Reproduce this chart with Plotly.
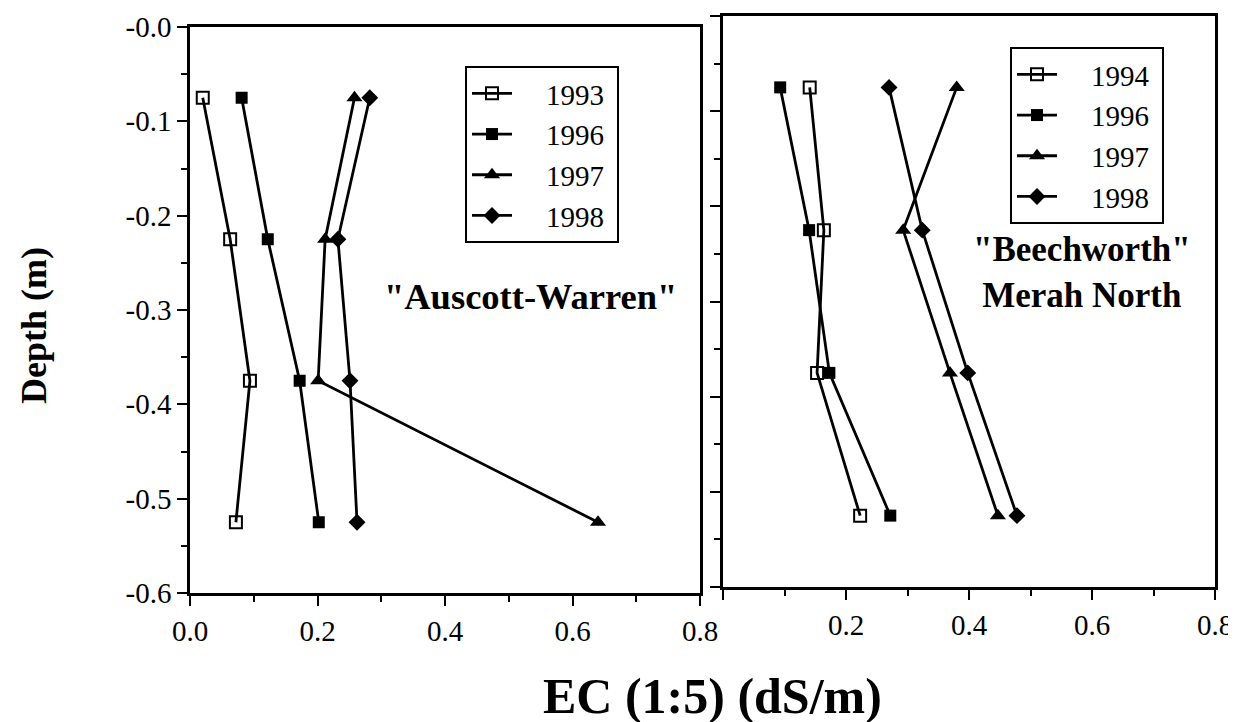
import plotly.graph_objects as go

# The page body has an 8px default margin, so the figure is drawn 8px in.
OFF = 8
W, H = 1236 - OFF, 722 - OFF

# ---- data ----
depth = [-0.075, -0.225, -0.375, -0.525]

aw_years = ["1993", "1996", "1997", "1998"]
aw_1993 = [0.020, 0.063, 0.094, 0.072]
aw_1996 = [0.081, 0.122, 0.172, 0.202]
aw_1997 = [0.258, 0.212, 0.201, 0.640]
aw_1998 = [0.282, 0.232, 0.251, 0.262]

bw_years = ["1994", "1996", "1997", "1998"]
bw_1994 = [0.141, 0.164, 0.153, 0.223]
bw_1996 = [0.093, 0.140, 0.173, 0.272]
bw_1997 = [0.380, 0.293, 0.369, 0.447]
bw_1998 = [0.270, 0.324, 0.398, 0.478]

x_tickvals = [0.0, 0.2, 0.4, 0.6, 0.8]
x_ticktext_left = ["0.0", "0.2", "0.4", "0.6", "0.8"]
x_ticktext_right = ["", "0.2", "0.4", "0.6", "0.8"]
y_tickvals = [0.0, -0.1, -0.2, -0.3, -0.4, -0.5, -0.6]
y_ticktext = ["-0.0", "-0.1", "-0.2", "-0.3", "-0.4", "-0.5", "-0.6"]

SERIF = "Liberation Serif"
NB = "\u00a0"


def px(xp):
    """page x pixel -> paper fraction"""
    return (xp - OFF) / W


def py(yp):
    """page y pixel -> paper fraction"""
    return 1 - (yp - OFF) / H


def legend_name(year):
    return NB * 4 + year + NB


symbols = [
    dict(symbol="square-open", size=12, line=dict(width=2, color="black")),
    dict(symbol="square", size=12),
    dict(symbol="triangle-up", size=14),
    dict(symbol="diamond", size=13),
]

fig = go.Figure()

for name, vals, mk in zip(aw_years, [aw_1993, aw_1996, aw_1997, aw_1998], symbols):
    fig.add_trace(go.Scatter(
        x=vals, y=depth, mode="lines+markers", name=legend_name(name),
        line=dict(color="black", width=2.8),
        marker=dict(color="black", **mk),
        xaxis="x", yaxis="y", legend="legend",
    ))

for name, vals, mk in zip(bw_years, [bw_1994, bw_1996, bw_1997, bw_1998], symbols):
    fig.add_trace(go.Scatter(
        x=vals, y=depth, mode="lines+markers", name=legend_name(name),
        line=dict(color="black", width=2.8),
        marker=dict(color="black", **mk),
        xaxis="x2", yaxis="y2", legend="legend2",
    ))

axis_common = dict(
    showgrid=False, zeroline=False, showline=True, linecolor="black",
    linewidth=2.5, mirror=True, ticks="outside", ticklen=10, tickwidth=2,
    tickcolor="black", automargin=False,
    tickfont=dict(family=SERIF, size=29, color="black"),
)

minor_x = dict(dtick=0.1, tick0=0, ticks="outside", ticklen=6,
               tickwidth=2, tickcolor="black", showgrid=False)
minor_y = dict(dtick=0.05, tick0=0, ticks="outside", ticklen=6,
               tickwidth=2, tickcolor="black", showgrid=False)

legend_common = dict(
    xanchor="left", yanchor="top", bgcolor="white", bordercolor="black",
    borderwidth=2, font=dict(family=SERIF, size=29, color="black"),
    itemwidth=40, tracegroupgap=0,
)

fig.update_layout(
    width=W, height=H, autosize=False,
    margin=dict(l=0, r=0, t=0, b=0, pad=0, autoexpand=False),
    paper_bgcolor="white", plot_bgcolor="white",
    font=dict(family=SERIF, color="black"),
    xaxis=dict(domain=[px(190), px(700)], range=[0, 0.8], anchor="y",
               tickvals=x_tickvals, ticktext=x_ticktext_left,
               minor=minor_x, **axis_common),
    yaxis=dict(domain=[py(593), py(27)], range=[-0.6, 0], anchor="x",
               tickvals=y_tickvals, ticktext=y_ticktext,
               minor=minor_y, **axis_common),
    xaxis2=dict(domain=[px(723), px(1215)], range=[0, 0.8], anchor="y2",
                tickvals=x_tickvals, ticktext=x_ticktext_right,
                minor=minor_x, **axis_common),
    yaxis2=dict(domain=[py(587), py(16)], range=[-0.6, 0], anchor="x2",
                tickvals=y_tickvals, showticklabels=False,
                minor=minor_y, **axis_common),
    legend=dict(x=px(465), y=py(66), **legend_common),
    legend2=dict(x=px(1010), y=py(47), **legend_common),
    showlegend=True,
)

annots = [
    dict(text='<b>"Auscott-Warren"</b>', x=px(530), y=py(296),
         font=dict(family=SERIF, size=36.5, color="black")),
    dict(text='<b>"Beechworth"<br>Merah North</b>', x=px(1082), y=py(272),
         font=dict(family=SERIF, size=35, color="black")),
    dict(text='<b>Depth (m)</b>', x=px(34), y=py(326), textangle=-90,
         font=dict(family=SERIF, size=36, color="black")),
    dict(text='<b>EC (1:5) (dS/m)</b>', x=px(712), y=py(696),
         font=dict(family=SERIF, size=50, color="black")),
]
for a in annots:
    fig.add_annotation(xref="paper", yref="paper", showarrow=False,
                       xanchor="center", yanchor="middle", **a)

fig.write_html("out.html")
